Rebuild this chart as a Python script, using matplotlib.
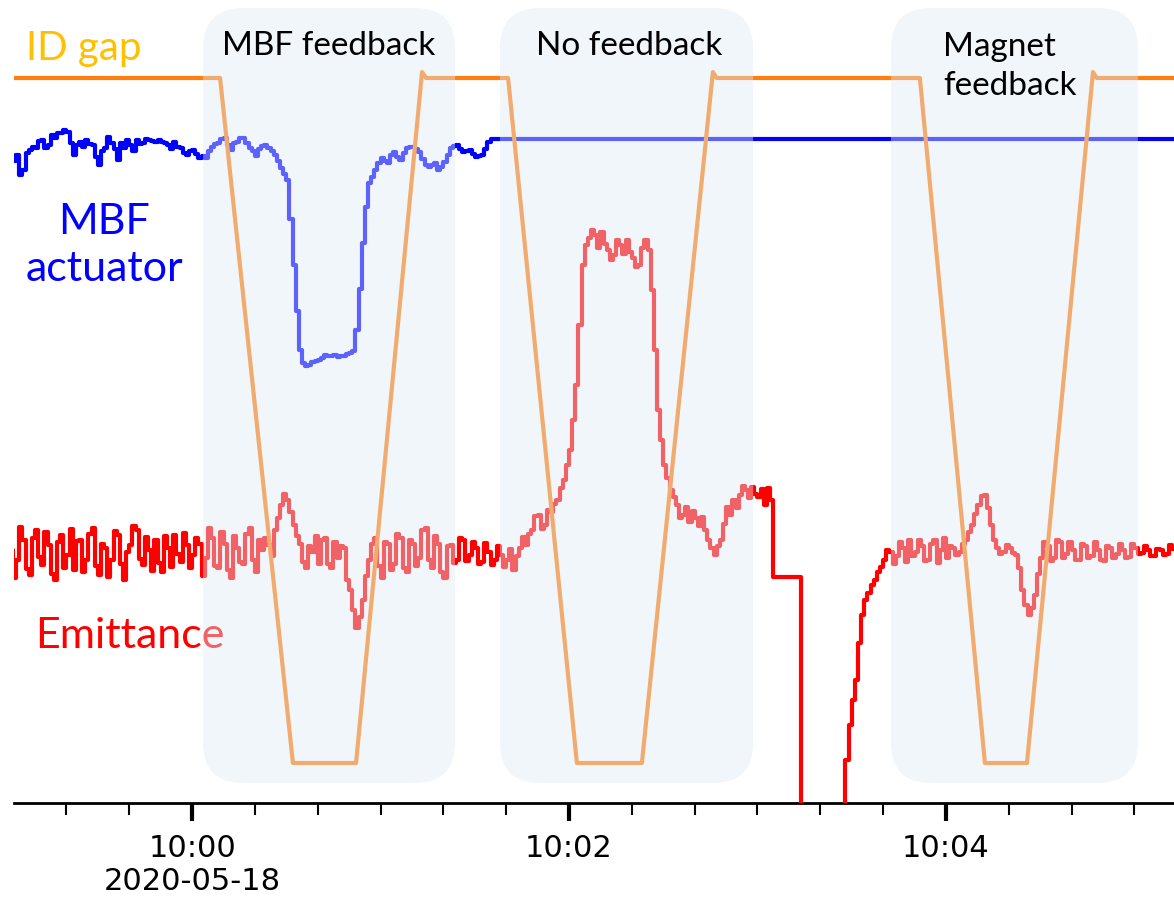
import numpy as np
import matplotlib.pyplot as plt
import matplotlib.dates as mdates
from matplotlib.patches import FancyBboxPatch
from matplotlib.transforms import IdentityTransform, blended_transform_factory

# time base: seconds relative to 10:00:00 on 2020-05-18
t0 = np.datetime64('2020-05-18T10:00:00')

def at(sec):
    return t0 + (np.asarray(sec, dtype=float) * 1000).astype('timedelta64[ms]')

# emittance [pm], one sample per second from -58 s to 314 s (0 = beam lost / off scale)
em_t = np.arange(-58, 315, 1)
emittance = [
    30.0, 27.2, 29.0, 32.3, 31.0, 28.1, 27.5, 31.2, 32.0, 29.3, 28.5, 31.8, 30.5, 27.6, 27.0, 30.8, 31.5, 28.2, 29.5, 32.1,
    28.0, 30.9, 31.0, 27.8, 29.0, 31.6, 32.2, 28.4, 27.5, 30.6, 30.2, 27.3, 29.0, 31.9, 31.5, 28.6, 27.0, 29.8, 30.5, 32.4,
    32.0, 29.1, 28.5, 31.3, 30.0, 27.9, 31.0, 28.7, 27.8, 31.4, 30.2, 28.3, 31.5, 29.6, 28.8, 31.7, 30.5, 28.2, 29.5, 31.2,
    30.6, 27.4, 29.2, 32.2, 31.2, 28.4, 28.2, 31.8, 30.6, 28.0, 27.2, 31.4, 30.2, 28.8, 28.6, 31.6, 32.2, 29.0, 27.8, 31.0,
    30.0, 31.2, 30.5, 29.4, 32.0, 33.2, 34.5, 35.6, 35.0, 33.8, 32.5, 31.4, 30.6, 28.8, 28.2, 30.4, 29.8, 31.4, 28.6, 31.0,
    31.2, 28.6, 28.2, 30.8, 29.2, 30.4, 30.2, 27.0, 26.0, 24.0, 22.2, 23.3, 25.0, 27.4, 29.0, 30.6, 31.2, 28.4, 27.2, 30.8,
    30.6, 28.0, 28.6, 31.6, 31.2, 28.2, 27.8, 31.0, 30.6, 28.4, 29.2, 32.0, 32.2, 29.0, 28.2, 31.4, 30.6, 27.8, 27.2, 30.4,
    30.5, 28.7, 29.0, 31.2, 31.0, 28.9, 29.5, 30.8, 30.2, 28.6, 28.8, 30.7, 29.8, 28.5, 29.0, 30.4, 29.5, 28.3, 29.0, 30.1,
    28.0, 29.4, 30.2, 31.3, 30.5, 31.6, 32.0, 33.4, 33.5, 32.1, 32.5, 34.0, 33.8, 34.6, 35.0, 36.2, 37.0, 38.5, 40.0, 43.0,
    46.5, 52.5, 58.5, 60.5, 61.2, 62.0, 61.5, 60.2, 61.8, 60.6, 60.0, 59.0, 59.5, 61.0, 60.5, 59.6, 61.0, 59.8, 59.2, 58.3,
    58.5, 60.2, 61.0, 60.0, 56.0, 50.0, 44.0, 41.0, 38.5, 37.2, 36.0, 35.3, 34.5, 33.2, 33.5, 34.3, 32.8, 33.9, 33.2, 32.4,
    33.3, 32.0, 31.0, 30.2, 29.5, 30.4, 31.0, 32.6, 34.3, 33.5, 35.0, 34.2, 35.5, 36.4, 36.0, 35.2, 36.3, 35.6, 35.3, 36.1,
    34.5, 36.2, 35.0, 27.3, 27.3, 27.3, 27.3, 27.3, 27.3, 27.3, 27.3, 27.3, 0.0, 0.0, 0.0, 0.0, 0.0, 0.0, 0.0, 0.0,
    0.0, 0.0, 0.0, 0.0, 0.0, 4.0, 9.0, 12.5, 15.0, 17.0, 20.7, 23.5, 25.0, 25.7, 26.5, 27.0, 27.8, 28.3, 29.0, 30.0,
    29.8, 28.6, 29.4, 30.8, 30.2, 28.8, 31.0, 29.4, 29.8, 31.0, 30.4, 28.9, 29.0, 30.6, 31.0, 28.7, 30.0, 31.2, 29.2, 30.4,
    30.2, 29.5, 29.8, 30.6, 31.0, 31.8, 32.5, 33.6, 34.5, 35.4, 35.5, 34.2, 32.5, 31.0, 30.2, 29.6, 29.8, 30.5, 30.2, 29.7,
    29.5, 28.2, 26.0, 24.5, 23.5, 24.2, 25.5, 27.6, 29.2, 30.8, 30.4, 28.9, 29.2, 31.0, 30.8, 29.2, 29.6, 30.8, 30.0, 29.0,
    29.0, 30.6, 30.4, 29.2, 29.4, 30.8, 30.0, 29.0, 28.9, 30.4, 30.2, 29.2, 29.6, 30.6, 30.0, 29.2, 29.3, 30.6, 30.2, 29.6,
    29.7, 30.4, 30.0, 29.4, 29.4, 30.1, 30.0, 29.5, 29.6, 30.5, 30.1, 29.6, 29.8,
]

# MBF actuator [a.u.], one sample per second from -58 s to 94 s, then switched off (flat)
mbf_t = list(range(-58, 95)) + [95, 316]
mbf = [
    -0.80, -1.10, -0.80, -1.80, -1.55, -0.70, -0.55, -0.40, -0.45, -0.10, -0.05, -0.45, -0.30, 0.20, 0.05, 0.30, 0.30, 0.45, 0.35, -0.20,
    -0.80, -0.30, -0.15, -0.40, -0.05, -0.25, -0.30, -0.90, -1.30, -0.60, -0.45, 0.10, -0.20, -0.50, -1.05, -0.20, -0.45, -0.05, -0.30, -0.60,
    -0.05, -0.25, -0.20, 0.00, -0.05, -0.10, -0.15, -0.05, -0.15, -0.20, -0.30, -0.50, -0.15, -0.40, -0.45, -0.70, -0.80, -0.60, -0.55, -0.75,
    -0.95, -0.85, -0.95, -0.60, -0.40, -0.25, -0.20, 0.00, 0.05, -0.30, -0.55, -0.20, -0.15, 0.05, 0.05, -0.20, -0.45, -0.60, -0.85, -0.50,
    -0.35, -0.30, -0.45, -0.60, -0.80, -1.10, -1.45, -1.75, -2.05, -4.00, -6.30, -8.60, -10.55, -11.20, -11.35, -11.30, -11.15, -11.10, -11.05, -10.95,
    -10.80, -10.85, -10.85, -10.80, -10.90, -10.85, -10.85, -10.75, -10.70, -10.60, -9.55, -7.50, -5.20, -3.40, -2.20, -1.90, -1.55, -1.20, -0.95, -1.10,
    -1.20, -0.80, -0.65, -0.90, -1.05, -0.70, -0.45, -0.40, -0.40, -0.50, -0.65, -1.00, -1.30, -1.40, -1.30, -1.20, -1.55, -1.40, -1.15, -0.80,
    -0.45, -0.35, -0.30, -0.50, -0.65, -0.60, -0.55, -0.75, -0.90, -0.85, -0.80, -0.50, -0.15,
    0.0, 0.0,
]

# ID gap [mm], ramp break points
gap_t = [-60, 8.9, 32.1, 52.2, 73.2, 74.5, 100.6, 122.5, 143.2, 165.8, 167,
         231.7, 252.4, 265.8, 286.8, 288, 320]
gap = [20.0, 20.0, 5.0, 5.0, 20.13, 20.0, 20.0, 5.0, 5.0, 20.13, 20.0,
       20.0, 5.0, 5.0, 20.13, 20.0, 20.0]

# shaded test periods (s) and their captions
periods = [(3.5, 83.7), (98.0, 178.6), (222.5, 301.1)]
period_names = ['MBF feedback', 'No feedback', 'Magnet\nfeedback']

major_ticks = [0, 120, 240]
major_labels = ['10:00\n2020-05-18', '10:02', '10:04']

label_font = ['Lato', 'DejaVu Sans']

fig = plt.figure(figsize=(11.74, 9.05), dpi=100)
ax = fig.add_axes([14 / 1174, 1 - 803 / 905, 1160 / 1174, 803 / 905])
ax_em = ax.twinx()
ax_mbf = ax.twinx()
ax_gap = ax.twinx()

ax.set_xlim(at(-56.7), at(312.6))
ax.set_ylim(0, 1)

ax_em.plot(at(em_t), emittance, color='#ff0000', lw=3, drawstyle='steps-post')
ax_em.set_ylim(4.7, 85.0)
ax_mbf.plot(at(mbf_t), mbf, color='#0000ff', lw=3, drawstyle='steps-post')
ax_mbf.set_ylim(-33.2, 6.95)
ax_gap.plot(at(gap_t), gap, color='#ff7f0e', lw=3)
ax_gap.set_ylim(4.124, 21.708)

for a in (ax, ax_em, ax_mbf, ax_gap):
    for side in ('left', 'right', 'top', 'bottom'):
        a.spines[side].set_visible(False)
    a.set_yticks([])
    a.patch.set_visible(False)
ax.spines['bottom'].set_visible(True)
ax.spines['bottom'].set_linewidth(2)

ax.set_xticks(at(major_ticks))
ax.set_xticklabels(major_labels)
ax.xaxis.set_minor_locator(mdates.SecondLocator(bysecond=[0, 20, 40]))
ax.tick_params(axis='x', which='major', length=13, width=3, labelsize=22, pad=9)
ax.tick_params(axis='x', which='minor', length=8.5, width=1.5)

# rounded overlay boxes, drawn on top of the traces
fig.canvas.draw()
y_lo = ax.transAxes.transform((0, 0.025))[1]
y_hi = ax.transAxes.transform((0, 0.990))[1]
for (s, e) in periods:
    x_lo = ax.transData.transform((mdates.date2num(at(s)), 0))[0]
    x_hi = ax.transData.transform((mdates.date2num(at(e)), 0))[0]
    box = FancyBboxPatch((x_lo, y_lo), x_hi - x_lo, y_hi - y_lo,
                         boxstyle='round,pad=0,rounding_size=40',
                         transform=IdentityTransform(), facecolor='#deeaf6',
                         edgecolor='none', alpha=0.42, zorder=3, clip_on=False)
    ax_gap.add_artist(box)

bt = blended_transform_factory(ax.transData, ax.transAxes)
ax_gap.text(mdates.date2num(at(43.6)), 0.9315, period_names[0], transform=bt,
            ha='center', va='baseline', fontsize=24, family=label_font, zorder=4)
ax_gap.text(mdates.date2num(at(139.0)), 0.9315, period_names[1], transform=bt,
            ha='center', va='baseline', fontsize=24, family=label_font, zorder=4)
ax_gap.text(mdates.date2num(at(239.0)), 0.8817, period_names[2], transform=bt,
            ha='left', va='baseline', fontsize=24, family=label_font,
            linespacing=1.38, zorder=4)

ax_gap.text(0.0103, 0.9253, 'ID gap', transform=ax.transAxes, color='#ffc000',
            ha='left', va='baseline', fontsize=29, family=label_font, zorder=2.5)
ax_gap.text(0.0776, 0.650, 'MBF\nactuator', transform=ax.transAxes, color='#0000ff',
            ha='center', va='baseline', fontsize=31, family=label_font,
            linespacing=1.3, multialignment='center', zorder=2.5)
ax_gap.text(0.0181, 0.193, 'Emittance', transform=ax.transAxes, color='#ff0000',
            ha='left', va='baseline', fontsize=31, family=label_font, zorder=2.5)

fig.savefig('out.png', dpi=100)
